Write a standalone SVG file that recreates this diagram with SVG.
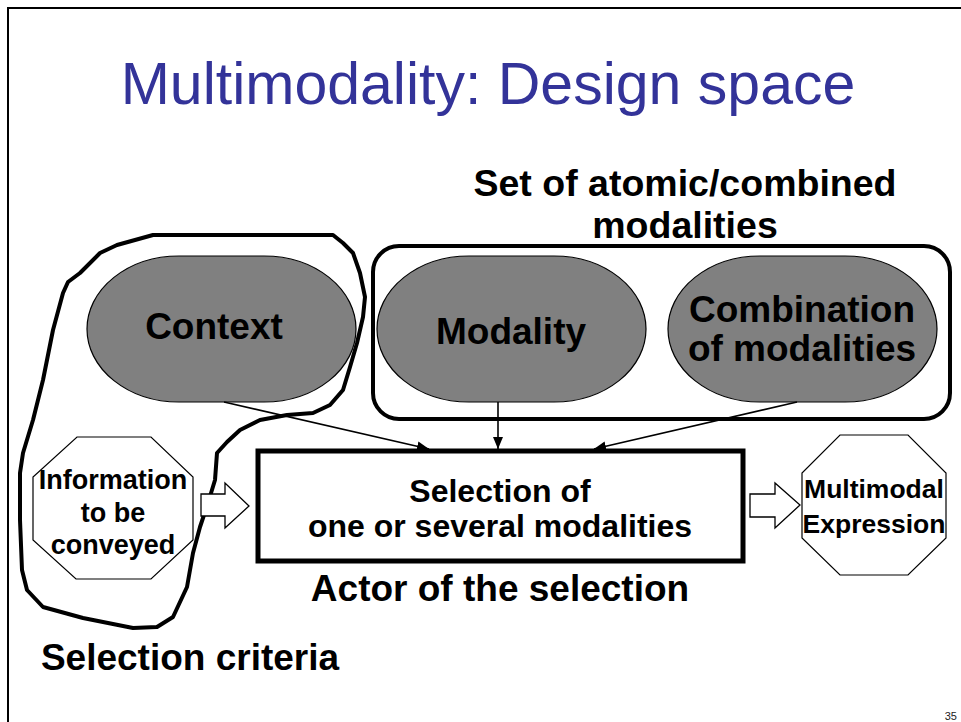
<svg xmlns="http://www.w3.org/2000/svg" width="961" height="722" viewBox="0 0 961 722">
<style>
.b{font-family:"Liberation Sans",Arial,sans-serif;font-weight:bold;fill:#000;text-anchor:middle}
.pill{fill:#808080;stroke:#000;stroke-width:1.2}
.oct{fill:#fff;stroke:#000;stroke-width:1.2}
.thin{stroke:#000;stroke-width:1.6;fill:none}
.hollow{fill:#fff;stroke:#000;stroke-width:1.3;stroke-linejoin:miter}
</style>
<defs>
<marker id="ah" viewBox="0 0 12 10" refX="12" refY="5" markerWidth="12" markerHeight="10" markerUnits="userSpaceOnUse" orient="auto">
<path d="M0,0 L12,5 L0,10 z" fill="#000"/>
</marker>
</defs>
<rect width="961" height="722" fill="#fff"/>
<g id="frame">
<path d="M8,722 L8,8 L961,8" fill="none" stroke="#000" stroke-width="2"/>
</g>
<text x="488" y="104" font-family="'Liberation Sans',Arial,sans-serif" font-size="59" fill="#333399" text-anchor="middle">Multimodality: Design space</text>

<g id="criteria-lasso">
<path d="M333,235 L153,235 L117,245 L100,253 L80,273 L68,282 L63,293 L53,330 L43,380 L33,420 L23,453 L20,473 L20,520 L22,570 L27,590 L43,607 L83,618 L133,628 L157,627 L173,617 L187,587 L193,553 L200,527 L208,503 L215,480 L217,453 L227,442 L240,430 L260,420 L287,415 L313,413 L330,405 L343,390 L350,367 L357,343 L363,317 L365,297 L360,273 L353,253 L343,243 Z" fill="none" stroke="#000" stroke-width="4" stroke-linejoin="round"/>
</g>

<g id="modality-set">
<rect x="373" y="246" width="577" height="173" rx="26" ry="26" fill="none" stroke="#000" stroke-width="4"/>
<text class="b" x="685" y="196" font-size="37.5">Set of atomic/combined</text>
<text class="b" x="685" y="238" font-size="37.5">modalities</text>
</g>

<g id="context">
<rect class="pill" x="87" y="256" width="269" height="146" rx="92" ry="73"/>
<text class="b" x="214" y="339" font-size="37">Context</text>
</g>

<g id="modality">
<rect class="pill" x="377" y="256" width="269" height="146" rx="92" ry="73"/>
<text class="b" x="511" y="344" font-size="37">Modality</text>
</g>

<g id="combination">
<rect class="pill" x="668" y="256" width="269" height="146" rx="92" ry="73"/>
<text class="b" x="802" y="322" font-size="37">Combination</text>
<text class="b" x="802" y="361" font-size="37">of modalities</text>
</g>

<g id="information">
<polygon class="oct" points="77,437 151,437 193,477 193,540 151,579 76,579 33,540 33,477"/>
<text class="b" x="113" y="489" font-size="27">Information</text>
<text class="b" x="113" y="522" font-size="27">to be</text>
<text class="b" x="113" y="554" font-size="27">conveyed</text>
</g>

<g id="selection">
<rect x="258" y="451" width="485" height="110" fill="#fff" stroke="#000" stroke-width="5"/>
<text class="b" x="500" y="502" font-size="32">Selection of</text>
<text class="b" x="500" y="537" font-size="32">one or several modalities</text>
</g>

<g id="expression">
<polygon class="oct" points="840,435 908,435 946,473 946,538 908,575 840,575 802,538 802,473"/>
<text class="b" x="874" y="498" font-size="26.5">Multimodal</text>
<text class="b" x="874" y="533" font-size="26.5">Expression</text>
</g>

<g id="connectors">
<line class="thin" x1="224" y1="402" x2="429" y2="449" marker-end="url(#ah)"/>
<line class="thin" x1="498" y1="402" x2="498" y2="449" marker-end="url(#ah)"/>
<line class="thin" x1="797" y1="402" x2="594" y2="449" marker-end="url(#ah)"/>
<polygon class="hollow" points="201,494 225,494 225,483 249,506 225,528 225,516 201,516"/>
<polygon class="hollow" points="750,494 775,494 775,483 800,505 775,528 775,517 750,517"/>
</g>

<text class="b" x="500" y="601" font-size="37">Actor of the selection</text>
<text class="b" x="190" y="670" font-size="37">Selection criteria</text>
<text x="957" y="720" font-family="'Liberation Sans',Arial,sans-serif" font-size="11" fill="#222" text-anchor="end">35</text>
</svg>
